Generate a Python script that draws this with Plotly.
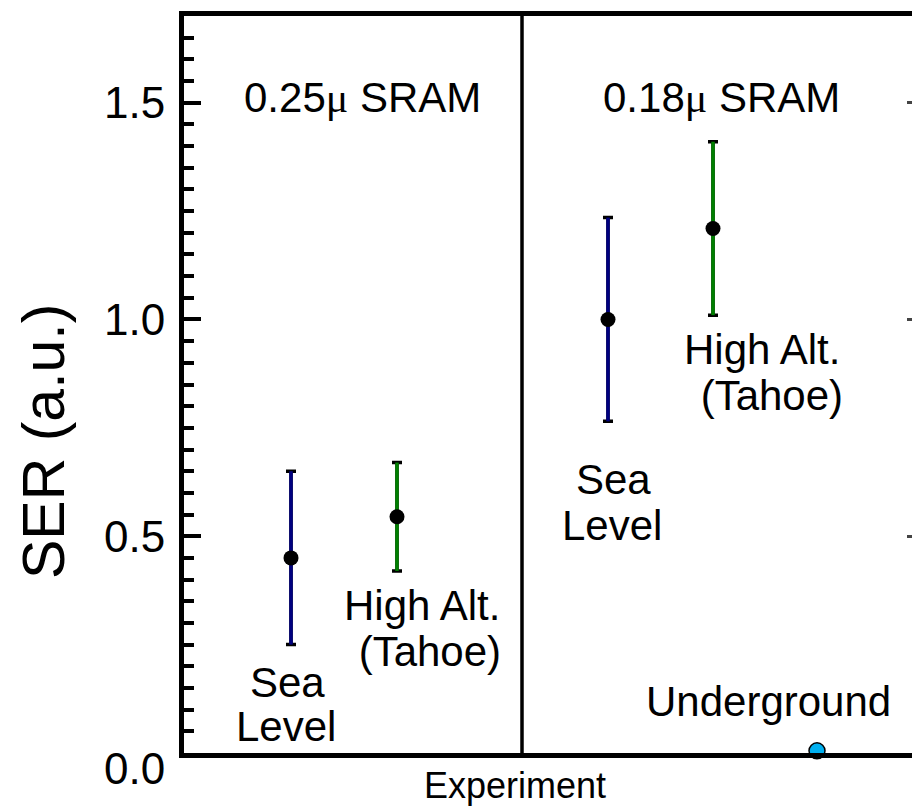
import plotly.graph_objects as go

# ---- data ----
experiments = ["0.25u Sea Level", "0.25u High Alt.", "0.18u Sea Level", "0.18u High Alt.", "Underground"]
x_pos = [1.07, 2.13, 4.24, 5.29, 6.33]
ser_values = [0.45, 0.545, 1.0, 1.21, 0.005]
ser_errors = [0.20, 0.125, 0.235, 0.20, 0.0]
sea_idx = [0, 2]
alt_idx = [1, 3]
under_idx = [4]
divider_x = [3.38]
ytick_vals = [0.0, 0.5, 1.0, 1.5]
ytick_text = ["0.0", "0.5", "1.0", "1.5"]
Y_RANGE = [0, 1.7]
X_RANGE = [0, 7.28]

FONT = "Arial, 'Liberation Sans', sans-serif"
L, T, W, H = 184, 16, 912, 808
B = 753
PW, PH = W - L, B - T


def px(xp):
    return (xp - L) / PW


def py(yp):
    return (B - yp) / PH


fig = go.Figure()


def pick(lst, idx):
    return [lst[i] for i in idx]


def add_group(idx, color):
    # black caps
    fig.add_trace(go.Scatter(
        x=pick(x_pos, idx), y=pick(ser_values, idx), mode="markers",
        marker=dict(size=1, color="rgba(0,0,0,0)"),
        error_y=dict(type="data", array=pick(ser_errors, idx), visible=True,
                     color="black", thickness=3.5, width=5),
        showlegend=False, hoverinfo="skip"))
    # coloured bar + dot
    fig.add_trace(go.Scatter(
        x=pick(x_pos, idx), y=pick(ser_values, idx), mode="markers",
        marker=dict(size=15, color="black"),
        error_y=dict(type="data", array=pick(ser_errors, idx), visible=True,
                     color=color, thickness=3.5, width=0),
        showlegend=False))


add_group(sea_idx, "#000080")
add_group(alt_idx, "#008000")
fig.add_trace(go.Scatter(
    x=pick(x_pos, under_idx), y=pick(ser_values, under_idx), mode="markers",
    marker=dict(size=16, color="#00B0F0", line=dict(color="black", width=1.5)),
    showlegend=False, cliponaxis=False))

for dx in divider_x:
    fig.add_shape(type="line", x0=dx, x1=dx, y0=0, y1=1, xref="x", yref="paper",
                  line=dict(color="black", width=3.5))

ann = []


def text(t, cx, cy, size=42):
    ann.append(dict(text=t, x=px(cx), y=py(cy), xref="paper", yref="paper",
                    showarrow=False, xanchor="center", yanchor="middle",
                    font=dict(size=size, color="black", family=FONT)))


mu = "<span style='font-family:Liberation Serif'>μ</span>"
text("0.25" + mu + " SRAM", 362, 97)
text("0.18" + mu + " SRAM", 721, 97)
text("Sea", 287, 682)
text("Level", 286, 726)
text("High Alt.", 422, 605)
text(" (Tahoe)", 424, 651)
text("High Alt.", 762, 349)
text(" (Tahoe)", 766, 395)
text("Sea", 613, 479)
text("Level", 612, 525)
text("Underground", 768, 701)

for v, t in zip(ytick_vals, ytick_text):
    yy = B - (v - Y_RANGE[0]) / (Y_RANGE[1] - Y_RANGE[0]) * PH
    if v == 0.0:
        yy += 15
    ann.append(dict(text=t, x=0, y=py(yy), xref="paper", yref="paper",
                    xanchor="right", yanchor="middle", xshift=-17, showarrow=False,
                    font=dict(size=44, color="black", family=FONT)))

ann.append(dict(text="Experiment", x=px(515), y=py(786), xref="paper", yref="paper",
                showarrow=False, xanchor="center", yanchor="middle",
                font=dict(size=36, color="black", family=FONT)))
ann.append(dict(text="SER (a.u.)", x=px(44), y=py(442), xref="paper", yref="paper",
                showarrow=False, xanchor="center", yanchor="middle", textangle=-90,
                font=dict(size=59, color="black", family=FONT)))

fig.update_layout(
    width=W, height=H,
    margin=dict(l=L, r=0, t=T, b=H - B, pad=0),
    paper_bgcolor="white", plot_bgcolor="white",
    annotations=ann,
    xaxis=dict(range=X_RANGE, showgrid=False, zeroline=False, showticklabels=False,
               ticks="", showline=True, linecolor="black", linewidth=4.5, mirror=True),
    yaxis=dict(range=Y_RANGE, showgrid=False, zeroline=False, showticklabels=False,
               tickmode="array", tickvals=ytick_vals,
               ticks="inside", ticklen=17, tickwidth=4, tickcolor="black",
               minor=dict(dtick=0.05, ticks="inside", ticklen=10, tickwidth=3.5,
                          tickcolor="black", showgrid=False),
               showline=True, linecolor="black", linewidth=5, mirror=False),
    yaxis2=dict(range=Y_RANGE, overlaying="y", side="right", showgrid=False,
                zeroline=False, showticklabels=False, tickmode="array",
                tickvals=[0.5, 1.0, 1.5], ticks="inside", ticklen=5, tickwidth=3,
                tickcolor="#444", showline=False),
    showlegend=False,
)
# dummy trace to activate yaxis2
fig.add_trace(go.Scatter(x=[None], y=[None], yaxis="y2", showlegend=False))

fig.write_html("out.html")
